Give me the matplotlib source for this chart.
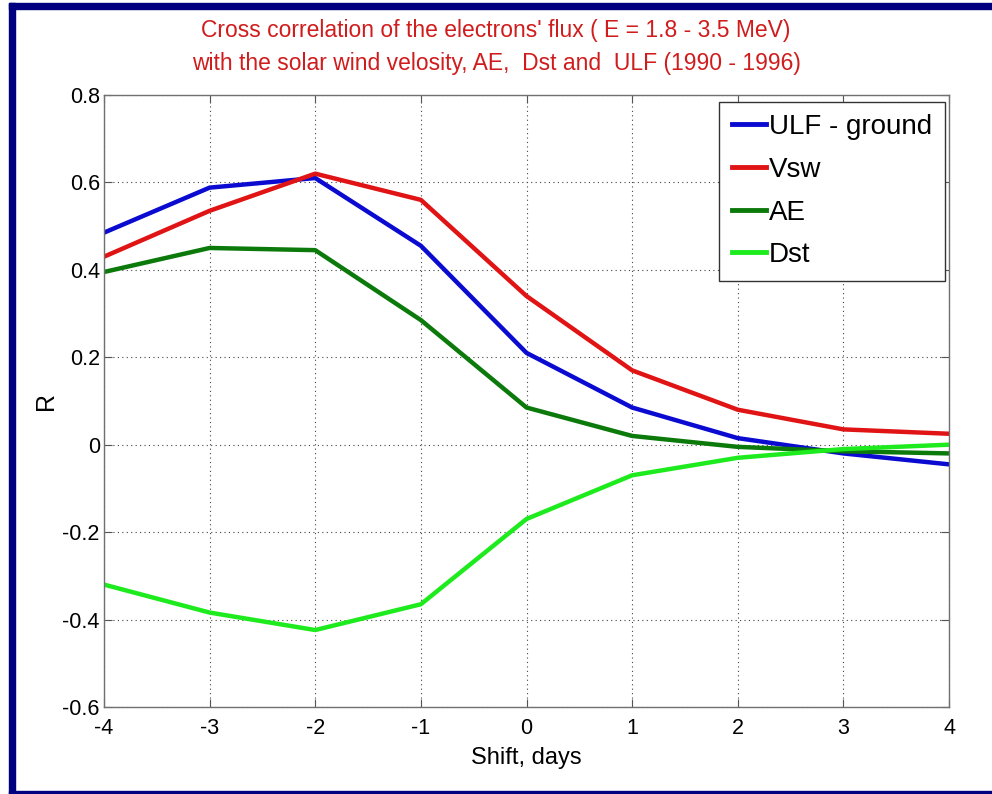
import matplotlib
matplotlib.use("Agg")
import matplotlib.pyplot as plt
from matplotlib import font_manager
from matplotlib.patches import Rectangle

# Cross-correlation of the 1.8-3.5 MeV electron flux with drivers, 1990-1996
shift_days = [-4, -3, -2, -1, 0, 1, 2, 3, 4]
r_ulf = [0.485, 0.588, 0.610, 0.455, 0.210, 0.085, 0.015, -0.020, -0.045]
r_vsw = [0.430, 0.535, 0.620, 0.560, 0.340, 0.170, 0.080, 0.035, 0.025]
r_ae = [0.395, 0.450, 0.445, 0.285, 0.085, 0.020, -0.005, -0.015, -0.020]
r_dst = [-0.320, -0.384, -0.424, -0.365, -0.170, -0.070, -0.030, -0.010, 0.000]

series_names = ["ULF - ground", "Vsw", "AE", "Dst"]
series_colors = ["#0a0ad0", "#e01414", "#0b7a0b", "#1eeb1e"]

x_ticks = [-4, -3, -2, -1, 0, 1, 2, 3, 4]
y_ticks = [-0.6, -0.4, -0.2, 0, 0.2, 0.4, 0.6, 0.8]
y_tick_labels = ["-0.6", "-0.4", "-0.2", "0", "0.2", "0.4", "0.6", "0.8"]

installed = {f.name for f in font_manager.fontManager.ttflist}
family = [f for f in ["Liberation Sans Narrow", "Liberation Sans", "DejaVu Sans"]
          if f in installed]
plt.rcParams["font.family"] = family

fig = plt.figure(figsize=(9.92, 7.94), dpi=100)
ax = fig.add_axes([0.1048, 0.1096, 0.8519, 0.7708])

for vals, name, col in zip([r_ulf, r_vsw, r_ae, r_dst], series_names, series_colors):
    ax.plot(shift_days, vals, color=col, linewidth=3.2, label=name,
            solid_joinstyle="round")

ax.set_xlim(-4, 4)
ax.set_ylim(-0.6, 0.8)
ax.set_xticks(x_ticks)
ax.set_xticklabels([str(t) for t in x_ticks])
ax.set_yticks(y_ticks)
ax.set_yticklabels(y_tick_labels)
ax.tick_params(direction="in", length=6, width=0.8, colors="#555555",
               labelcolor="black", labelsize=15.5, top=True, right=True)
ax.tick_params(axis="x", pad=8)
ax.tick_params(axis="y", pad=3)
ax.grid(True, linestyle=(0, (1, 3)), color="#444444", linewidth=0.8)
for sp in ax.spines.values():
    sp.set_color("#707070")
    sp.set_linewidth(1.0)

ax.set_xlabel("Shift, days", fontsize=17, labelpad=6)
ax.set_ylabel("R", fontsize=18, labelpad=3)

fig.text(0.5, 0.961, "Cross correlation of the electrons' flux ( E = 1.8 - 3.5 MeV)",
         ha="center", va="center", fontsize=16.5, color="#d01c1c")
fig.text(0.5, 0.920, "with the solar wind velosity, AE,  Dst and  ULF (1990 - 1996)",
         ha="center", va="center", fontsize=16.5, color="#d01c1c")

leg = ax.legend(loc="upper right", bbox_to_anchor=(0.995, 0.989), fontsize=20,
                handlelength=1.25, handletextpad=0.1, labelspacing=0.6,
                borderpad=0.45, borderaxespad=0.0, fancybox=False, framealpha=1)
leg.get_frame().set_edgecolor("#333333")
leg.get_frame().set_linewidth(1.0)
for h in leg.get_lines():
    h.set_linewidth(3.5)

# navy frame along top, left and bottom edges
navy = "#000080"
W, H = 992.0, 794.0
fig.patches.append(Rectangle((9 / W, 0), 983 / W, 3 / H, transform=fig.transFigure,
                             color=navy, zorder=10))
fig.patches.append(Rectangle((9 / W, 1 - 9 / H), 983 / W, 6 / H,
                             transform=fig.transFigure, color=navy, zorder=10))
fig.patches.append(Rectangle((9 / W, 0), 6 / W, 1 - 3 / H, transform=fig.transFigure,
                             color=navy, zorder=10))

fig.savefig("out.png", dpi=100)
